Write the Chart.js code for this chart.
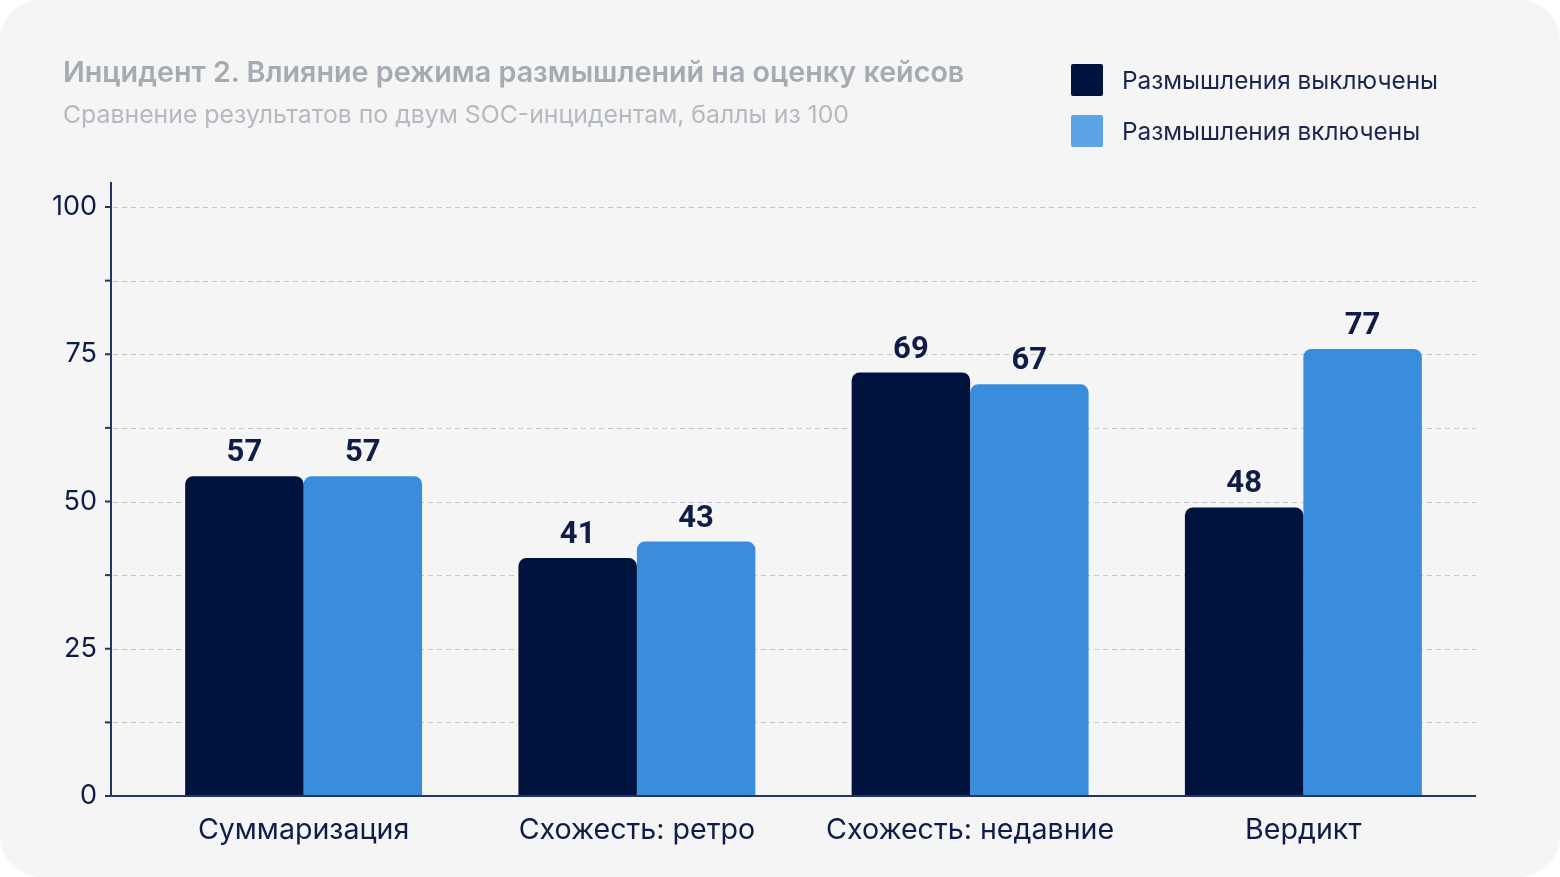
<!DOCTYPE html>
<html>
<head>
<meta charset="utf-8">
<script src="https://cdn.jsdelivr.net/npm/chart.js@4.4.1/dist/chart.umd.min.js"></script>
<style>
  html, body { margin: 0; padding: 0; background: #ffffff; }
  #card { position: absolute; left: 0; top: 0; width: 1560px; height: 877px; background: #f5f5f5; border-radius: 40px; overflow: hidden; }
  #c { position: absolute; left: 0; top: 0; }
  #title { position: absolute; left: 63px; top: 54px; font-family: Inter, sans-serif; font-weight: 600; font-size: 28.7px; color: #a5abb4; white-space: nowrap; letter-spacing: 0px; }
  #subtitle { position: absolute; left: 63px; top: 99px; font-family: Inter, sans-serif; font-weight: 400; font-size: 24.8px; color: #b5bac1; white-space: nowrap; letter-spacing: 0px; }
  #legend { position: absolute; left: 1071px; top: 64px; font-family: Inter, sans-serif; font-size: 24.4px; color: #1b2550; }
  .li { display: flex; align-items: center; height: 32px; margin-bottom: 19px; white-space: nowrap; }
  .sw { width: 32px; height: 32px; border-radius: 2px; margin-right: 19px; }
</style>
</head>
<body>
<div id="card">
  <canvas id="c" width="1560" height="877"></canvas>
  <div id="title"></div>
  <div id="subtitle"></div>
  <div id="legend"></div>
</div>
<script>
const titleText = "Инцидент 2. Влияние режима размышлений на оценку кейсов";
const subtitleText = "Сравнение результатов по двум SOC-инцидентам, баллы из 100";
const categories = ["Суммаризация", "Схожесть: ретро", "Схожесть: недавние", "Вердикт"];
const seriesNames = ["Размышления выключены", "Размышления включены"];
// bar heights as drawn in the picture
const valuesOff = [54.3, 40.4, 71.9, 49.0];
const valuesOn = [54.3, 43.2, 69.9, 75.9];
// value labels as printed above the bars
const labelsOff = ["57", "41", "69", "48"];
const labelsOn = ["57", "43", "67", "77"];
const yTickLabels = [0, 25, 50, 75, 100];

const colorOff = "#00133f";
const colorOn = "#3a8ddd";
const legendColors = ["#00133f", "#5ca4e4"];

document.getElementById("title").textContent = titleText;
document.getElementById("subtitle").textContent = subtitleText;
const legendEl = document.getElementById("legend");
seriesNames.forEach((n, i) => {
  const row = document.createElement("div");
  row.className = "li";
  const sw = document.createElement("div");
  sw.className = "sw";
  sw.style.background = legendColors[i];
  const t = document.createElement("span");
  t.textContent = n;
  row.appendChild(sw); row.appendChild(t);
  legendEl.appendChild(row);
});

const axisColor = "#253463";
const textColor = "#0f1c48";

const decorPlugin = {
  id: "decor",
  beforeDatasetsDraw(chart) {
    const ctx = chart.ctx, ca = chart.chartArea, y = chart.scales.y;
    const x0 = ca.left - 26, x1 = ca.right + 6;
    ctx.save();
    ctx.strokeStyle = "#c3c8d0";
    ctx.lineWidth = 1;
    ctx.setLineDash([5, 4]);
    y.ticks.forEach(t => {
      if (t.value === 0) return;
      const py = Math.round(y.getPixelForValue(t.value)) + 0.5;
      ctx.beginPath(); ctx.moveTo(x0 + 2, py); ctx.lineTo(x1, py); ctx.stroke();
    });
    ctx.restore();
  },
  afterDatasetsDraw(chart) {
    const ctx = chart.ctx, ca = chart.chartArea, y = chart.scales.y;
    const x0 = ca.left - 26, x1 = ca.right + 6;
    ctx.save();
    ctx.strokeStyle = axisColor;
    ctx.lineWidth = 2;
    ctx.beginPath(); ctx.moveTo(x0, ca.top - 25); ctx.lineTo(x0, ca.bottom + 1); ctx.stroke();
    ctx.beginPath(); ctx.moveTo(x0 - 1, ca.bottom); ctx.lineTo(x1, ca.bottom); ctx.stroke();
    y.ticks.forEach(t => {
      const py = y.getPixelForValue(t.value);
      ctx.beginPath(); ctx.moveTo(x0 - 6, py); ctx.lineTo(x0, py); ctx.stroke();
    });
    // value labels
    ctx.fillStyle = textColor;
    ctx.font = "700 31px Roboto, 'DejaVu Sans', sans-serif";
    ctx.textAlign = "center";
    ctx.textBaseline = "alphabetic";
    const lbls = [labelsOff, labelsOn];
    chart.data.datasets.forEach((ds, di) => {
      chart.getDatasetMeta(di).data.forEach((bar, i) => {
        ctx.fillText(lbls[di][i], bar.x, bar.y - 15);
      });
    });
    ctx.restore();
  }
};

new Chart(document.getElementById("c"), {
  type: "bar",
  data: {
    labels: categories,
    datasets: [
      { label: seriesNames[0], data: valuesOff, backgroundColor: colorOff },
      { label: seriesNames[1], data: valuesOn, backgroundColor: colorOn }
    ]
  },
  options: {
    responsive: false,
    animation: false,
    devicePixelRatio: 1,
    layout: { padding: { top: 207, right: 90, bottom: 0, left: 0 } },
    datasets: {
      bar: { categoryPercentage: 0.711, barPercentage: 1.0, borderRadius: 8, borderSkipped: "start" }
    },
    plugins: { legend: { display: false }, title: { display: false }, tooltip: { enabled: false } },
    scales: {
      x: {
        grid: { display: false, drawTicks: false },
        border: { display: false },
        ticks: { color: textColor, font: { family: "Inter, sans-serif", size: 28.6 }, padding: 17, maxRotation: 0 },
        afterFit(s) { s.height = 81; }
      },
      y: {
        min: 0, max: 100,
        grid: { display: false, drawTicks: false },
        border: { display: false },
        ticks: {
          stepSize: 12.5,
          padding: 40,
          color: textColor,
          font: { family: "Inter, sans-serif", size: 27 },
          callback: v => yTickLabels.includes(v) ? String(v) : ""
        },
        afterFit(s) { s.width = 137; }
      }
    }
  },
  plugins: [decorPlugin]
});
</script>
</body>
</html>
